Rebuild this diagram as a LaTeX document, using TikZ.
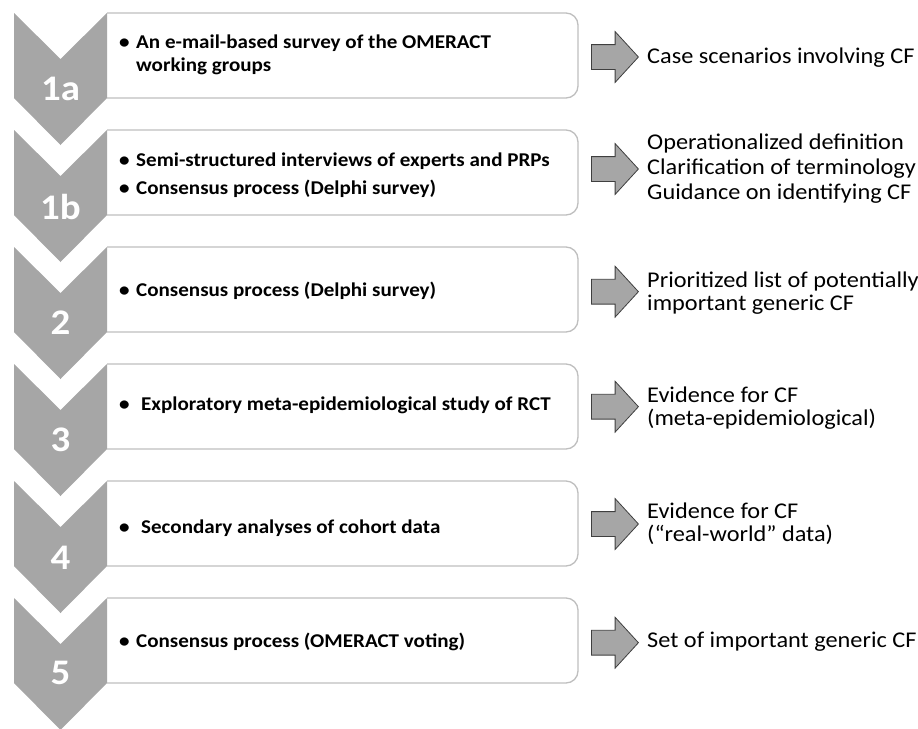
\documentclass[tikz,border=0pt]{standalone}
\usepackage{fontspec}
\setmainfont{Carlito}
\newfontfamily\wfont[FakeStretch=1.08]{Carlito}
\usetikzlibrary{shapes.arrows}
\definecolor{chevgray}{HTML}{A6A6A6}
\definecolor{boxline}{HTML}{BFBFBF}
\definecolor{arrline}{HTML}{3F3F3F}
\tikzset{
    chev/.style={fill=chevgray},
    box/.style={draw=boxline,line width=1.3pt,fill=white,rounded corners=12pt},
    num/.style={text=white,font=\wfont\fontsize{36}{36}\selectfont\bfseries,inner sep=0pt},
    item/.style={anchor=west,align=left,inner sep=0pt,
        font=\wfont\fontsize{19.5}{23}\selectfont\bfseries},
    res/.style={anchor=west,align=left,inner sep=0pt,
        font=\wfont\fontsize{22.5}{22.7}\selectfont},
    arr/.style={single arrow,anchor=tail,draw=arrline,fill=chevgray,line width=0.8pt,
        minimum height=47pt,inner xsep=0pt,inner ysep=12pt,
        single arrow head extend=13pt,single arrow tip angle=95},
}
\newcommand{\itm}{\makebox[17pt][l]{\textbullet}}

\begin{document}
\begin{tikzpicture}[x=1pt,y=-1pt]
\useasboundingbox (0,0) rectangle (918,728);
\draw[box] (107,13) -| (578,98) -- (107,98);
\draw[box] (107,130) -| (578,215) -- (107,215);
\draw[box] (107,247) -| (578,332) -- (107,332);
\draw[box] (107,364) -| (578,449) -- (107,449);
\draw[box] (107,481) -| (578,566) -- (107,566);
\draw[box] (107,598) -| (578,683) -- (107,683);

\fill[chev] (14,13) -- ++(46.5,46) -- ++(46.5,-46) -- ++(0,85) -- ++(-46.5,47) -- ++(-46.5,-47) -- cycle;
\fill[chev] (14,130) -- ++(46.5,46) -- ++(46.5,-46) -- ++(0,85) -- ++(-46.5,47) -- ++(-46.5,-47) -- cycle;
\fill[chev] (14,247) -- ++(46.5,46) -- ++(46.5,-46) -- ++(0,85) -- ++(-46.5,47) -- ++(-46.5,-47) -- cycle;
\fill[chev] (14,364) -- ++(46.5,46) -- ++(46.5,-46) -- ++(0,85) -- ++(-46.5,47) -- ++(-46.5,-47) -- cycle;
\fill[chev] (14,481) -- ++(46.5,46) -- ++(46.5,-46) -- ++(0,85) -- ++(-46.5,47) -- ++(-46.5,-47) -- cycle;
\fill[chev] (14,598) -- ++(46.5,46) -- ++(46.5,-46) -- ++(0,85) -- ++(-46.5,47) -- ++(-46.5,-47) -- cycle;

\node[num] (n1a) at (60.5,89) {1a};
\node[num] (n1b) at (60.5,206.5) {1b};
\node[num] (n2) at (60.5,323) {2};
\node[num] (n3) at (60.5,440) {3};
\node[num] (n4) at (60.5,557.5) {4};
\node[num] (n5) at (60.5,673) {5};

\node[item] (s1a) at (119,55) {\itm An e-mail-based survey of the OMERACT\\\hspace{17pt}working groups};
\node[item] (s1b) at (119,175) {\itm Semi-structured interviews of experts and PRPs\\[4.6pt]\itm Consensus process (Delphi survey)};
\node[item] (s2) at (119,291) {\itm Consensus process (Delphi survey)};
\node[item] (s3) at (119,405) {\itm\hspace{5pt}Exploratory meta-epidemiological study of RCT};
\node[item] (s4) at (119,528.5) {\itm\hspace{5pt}Secondary analyses of cohort data};
\node[item] (s5) at (119,642) {\itm Consensus process (OMERACT voting)};

\node[arr] (a1a) at (591,57) {};
\node[arr] (a1b) at (591,169) {};
\node[arr] (a2) at (591,291.7) {};
\node[arr] (a3) at (591,406.7) {};
\node[arr] (a4) at (591,524) {};
\node[arr] (a5) at (591,642.7) {};

\node[res] (r1a) at (647,58) {Case scenarios involving CF};
\node[res,font=\wfont\fontsize{22.5}{25}\selectfont] (r1b) at (647,169) {Operationalized definition\\Clarification of terminology\\Guidance on identifying CF};
\node[res] (r2) at (647,293) {Prioritized list of potentially\\important generic CF};
\node[res] (r3) at (647,408) {Evidence for CF\\(meta-epidemiological)};
\node[res] (r4) at (647,523.5) {Evidence for CF\\(“real-world” data)};
\node[res] (r5) at (647,641.5) {Set of important generic CF};
\end{tikzpicture}
\end{document}
